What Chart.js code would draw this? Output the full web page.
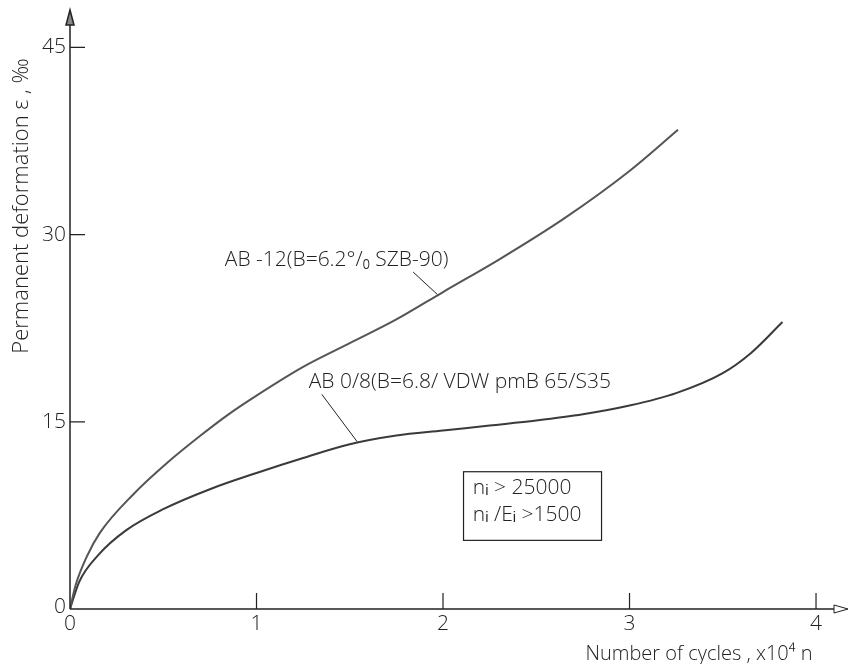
<!DOCTYPE html>
<html>
<head>
<meta charset="utf-8">
<script src="https://cdn.jsdelivr.net/npm/chart.js@4.4.0/dist/chart.umd.min.js"></script>
<style>
  html, body { margin: 0; padding: 0; background: #fff; }
  #wrap { width: 850px; height: 664px; }
</style>
</head>
<body>
<div id="wrap"><canvas id="chart" width="850" height="664"></canvas></div>
<script>
// number of cycles (x10^4) and permanent deformation (per mille)
const cyclesAB12 = [0, 0.03, 0.09, 0.16, 0.34, 0.52, 0.7, 0.85, 1.0, 1.25, 1.5, 1.75, 2.0, 2.3, 2.65, 3.0, 3.26];
const deformAB12 = [0, 1.9, 4.2, 6.1, 9.2, 11.7, 13.9, 15.6, 17.1, 19.4, 21.3, 23.2, 25.4, 28.0, 31.3, 35.1, 38.4];
const cyclesAB08 = [0, 0.05, 0.15, 0.3, 0.5, 0.75, 1.0, 1.25, 1.5, 1.75, 2.0, 2.25, 2.5, 2.75, 3.0, 3.25, 3.5, 3.65, 3.82];
const deformAB08 = [0, 2.2, 4.3, 6.3, 8.0, 9.6, 10.9, 12.1, 13.2, 13.9, 14.3, 14.7, 15.1, 15.6, 16.3, 17.3, 18.9, 20.5, 23.0];

const xTicks = [0, 1, 2, 3, 4];
const yTicks = [0, 15, 30, 45];

const labelAB12 = 'AB -12(B=6.2°/₀ SZB-90)';
const labelAB08 = 'AB 0/8(B=6.8/ VDW pmB 65/S35';
const boxLines = ['nᵢ > 25000', 'nᵢ /Eᵢ >1500'];
const xTitle = 'Number of cycles , x10⁴ n';
const yTitle = 'Permanent deformation ε , ‰';

const FONT = '"Open Sans", "DejaVu Sans", sans-serif';
const INK = '#222';

function pts(xs, ys) {
  return xs.map((x, i) => ({ x: x, y: ys[i] }));
}

// axes, arrows, ticks, labels and notes are drawn by hand like the printed figure
const drawing = {
  id: 'drawing',
  afterDraw(chart) {
    const ctx = chart.ctx;
    const xs = chart.scales.x, ys = chart.scales.y;
    const area = chart.chartArea;
    const X = v => xs.getPixelForValue(v);
    const Y = v => ys.getPixelForValue(v);
    const x0 = X(0), y0 = Y(0);

    ctx.save();
    ctx.strokeStyle = INK;
    ctx.fillStyle = INK;
    ctx.lineWidth = 1.5;

    // axis lines
    ctx.beginPath();
    ctx.moveTo(x0, y0);
    ctx.lineTo(x0, area.top + 14);
    ctx.moveTo(x0, y0);
    ctx.lineTo(area.right - 8, y0);
    ctx.stroke();

    // y arrow (filled grey)
    ctx.fillStyle = '#888';
    ctx.beginPath();
    ctx.moveTo(x0, area.top);
    ctx.lineTo(x0 - 4, area.top + 15);
    ctx.lineTo(x0 + 4, area.top + 15);
    ctx.closePath();
    ctx.fill();
    ctx.stroke();
    // x arrow (open)
    ctx.fillStyle = '#fff';
    ctx.beginPath();
    ctx.moveTo(area.right + 4, y0);
    ctx.lineTo(area.right - 10, y0 - 4);
    ctx.lineTo(area.right - 10, y0 + 4);
    ctx.closePath();
    ctx.fill();
    ctx.lineWidth = 1;
    ctx.stroke();

    // ticks
    ctx.lineWidth = 1.2;
    ctx.beginPath();
    yTicks.forEach(v => { if (v !== 0) { ctx.moveTo(x0, Y(v)); ctx.lineTo(x0 + 15, Y(v)); } });
    xTicks.forEach(v => { if (v !== 0) { ctx.moveTo(X(v), y0); ctx.lineTo(X(v), y0 - 16); } });
    ctx.stroke();

    // tick labels
    ctx.fillStyle = INK;
    ctx.font = '300 21px ' + FONT;
    ctx.textAlign = 'right';
    ctx.textBaseline = 'middle';
    yTicks.forEach(v => ctx.fillText(String(v), x0 - 4, Y(v) - (v === 0 ? 2 : 0)));
    ctx.textAlign = 'center';
    ctx.textBaseline = 'top';
    xTicks.forEach(v => ctx.fillText(String(v), X(v), y0 + 5));

    // axis titles
    ctx.font = '300 20px ' + FONT;
    ctx.textAlign = 'center';
    ctx.textBaseline = 'middle';
    ctx.fillText(xTitle, 699, y0 + 45);
    ctx.save();
    ctx.translate(22, 206);
    ctx.rotate(-Math.PI / 2);
    ctx.font = '300 22px ' + FONT;
    ctx.fillText(yTitle, 0, 0);
    ctx.restore();

    // curve labels with leader lines
    ctx.font = '300 21px ' + FONT;
    ctx.textAlign = 'left';
    ctx.textBaseline = 'middle';
    ctx.fillText(labelAB12, X(0.83), Y(28.0));
    ctx.fillText(labelAB08, X(1.28), Y(18.2));
    ctx.lineWidth = 1;
    ctx.beginPath();
    ctx.moveTo(X(1.84), Y(27.0));
    ctx.lineTo(X(1.97), Y(25.2));
    ctx.moveTo(X(1.35), Y(17.2));
    ctx.lineTo(X(1.54), Y(13.4));
    ctx.stroke();

    // criteria box
    ctx.lineWidth = 1.2;
    ctx.strokeRect(X(2.11), Y(11.0), X(2.85) - X(2.11), Y(5.5) - Y(11.0));
    ctx.font = '300 21px ' + FONT;
    ctx.fillText(boxLines[0], X(2.16), Y(9.7));
    ctx.fillText(boxLines[1], X(2.16), Y(7.5));

    ctx.restore();
  }
};

const chartContext = document.getElementById('chart').getContext('2d');
new Chart(chartContext, {
  type: 'line',
  data: {
    datasets: [
      {
        label: labelAB12,
        data: pts(cyclesAB12, deformAB12),
        borderColor: '#555',
        borderWidth: 2,
        pointRadius: 0,
        cubicInterpolationMode: 'monotone',
        fill: false
      },
      {
        label: labelAB08,
        data: pts(cyclesAB08, deformAB08),
        borderColor: '#3a3a3a',
        borderWidth: 2,
        pointRadius: 0,
        cubicInterpolationMode: 'monotone',
        fill: false
      }
    ]
  },
  options: {
    responsive: false,
    animation: false,
    devicePixelRatio: 1,
    layout: { padding: { left: 70, right: 6, top: 10, bottom: 55 } },
    plugins: { legend: { display: false }, tooltip: { enabled: false } },
    scales: {
      x: { type: 'linear', min: 0, max: 4.15, display: false },
      y: { type: 'linear', min: 0, max: 48, display: false }
    }
  },
  plugins: [drawing]
});
</script>
</body>
</html>
